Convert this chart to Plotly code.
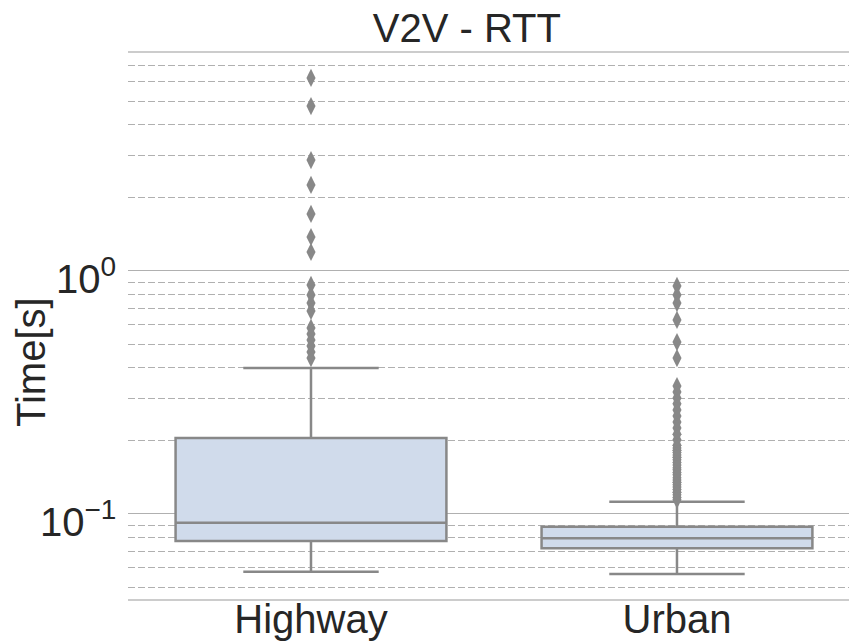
import math
import plotly.graph_objects as go

# Round-trip time summary per scenario (seconds)
categories = ["Highway", "Urban"]
q1 = [0.0774, 0.0723]
median = [0.0921, 0.0794]
q3 = [0.2055, 0.0887]
lower_whisker = [0.0579, 0.0566]
upper_whisker = [0.399, 0.1124]

# Points beyond the whiskers
highway_outliers = [6.23, 4.77, 2.86, 2.26, 1.717, 1.38, 1.197, 0.876, 0.797,
                    0.738, 0.685, 0.583, 0.551, 0.520, 0.491, 0.464, 0.438]
urban_outliers = [0.868, 0.797, 0.738, 0.629, 0.510, 0.438, 0.336, 0.318, 0.300,
                  0.284, 0.268, 0.253, 0.239, 0.226, 0.213, 0.202, 0.192, 0.187,
                  0.183, 0.179, 0.175, 0.171, 0.167, 0.163, 0.159, 0.155, 0.152,
                  0.148, 0.145, 0.141, 0.138, 0.135, 0.132, 0.129, 0.126, 0.123,
                  0.120, 0.117, 0.1145]

y_tickvals = [0.1, 1]
y_ticktext = ["10<sup>\u22121</sup>", "10<sup>0</sup>"]

BOX_FILL = "#d0dbeb"
EDGE = "#888888"
TEXT = "#262626"
FONT = "Liberation Sans, Arial, sans-serif"

x_pos = list(range(len(categories)))

fig = go.Figure()
fig.add_trace(go.Box(
    x=x_pos, q1=q1, median=median, q3=q3,
    lowerfence=lower_whisker, upperfence=upper_whisker,
    width=0.74, whiskerwidth=0.5,
    fillcolor=BOX_FILL, line=dict(color=EDGE, width=2.5),
    boxpoints=False, showlegend=False,
))

out_x = [0] * len(highway_outliers) + [1] * len(urban_outliers)
out_y = highway_outliers + urban_outliers
fig.add_trace(go.Scatter(
    x=out_x, y=out_y, mode="markers",
    marker=dict(symbol="diamond-tall", size=13, color=EDGE, line=dict(width=0)),
    showlegend=False,
))

# Decade labels on the log axis, drawn as annotations so the whole
# "10^n" block is centred on its gridline
decade_labels = [
    dict(text=txt, xref="paper", yref="y", x=0, y=math.log10(val),
         xanchor="right", yanchor="middle", xshift=-10, yshift=-5,
         showarrow=False, font=dict(size=40, color=TEXT))
    for val, txt in zip(y_tickvals, y_ticktext)
]

fig.update_layout(
    width=849, height=644,
    margin=dict(l=128, r=0, t=53, b=45),
    plot_bgcolor="white", paper_bgcolor="white",
    font=dict(family=FONT, size=40, color=TEXT),
    title=dict(text="V2V - RTT", x=0.47, xref="paper", xanchor="center",
               y=1 - 28 / 644, yref="container", yanchor="middle",
               font=dict(size=40, color=TEXT)),
    boxmode="overlay",
    xaxis=dict(
        range=[-0.5, 1.47], tickvals=x_pos, ticktext=categories,
        showgrid=False, zeroline=False, showline=True, mirror=True,
        linecolor="#cccccc", linewidth=1.5, ticks="", automargin=False,
        ticklabelstandoff=-16,
        tickfont=dict(size=40, color=TEXT),
    ),
    yaxis=dict(
        type="log", range=[-1.3498, 0.897],
        tickvals=y_tickvals, showticklabels=False,
        showgrid=True, gridcolor="#b0b0b0", gridwidth=1.3,
        zeroline=False, showline=False, ticks="", automargin=False,
        minor=dict(showgrid=True, dtick="D1", gridcolor="#b0b0b0",
                   gridwidth=1.3, griddash="7px,3px"),
    ),
    annotations=decade_labels + [dict(
        text="Time[s]", textangle=-90, xref="paper", yref="paper",
        x=(31 - 128) / 721, y=(599 - 362) / 546,
        xanchor="center", yanchor="middle", showarrow=False,
        font=dict(size=40, color=TEXT),
    )],
)

fig.write_html("out.html")
